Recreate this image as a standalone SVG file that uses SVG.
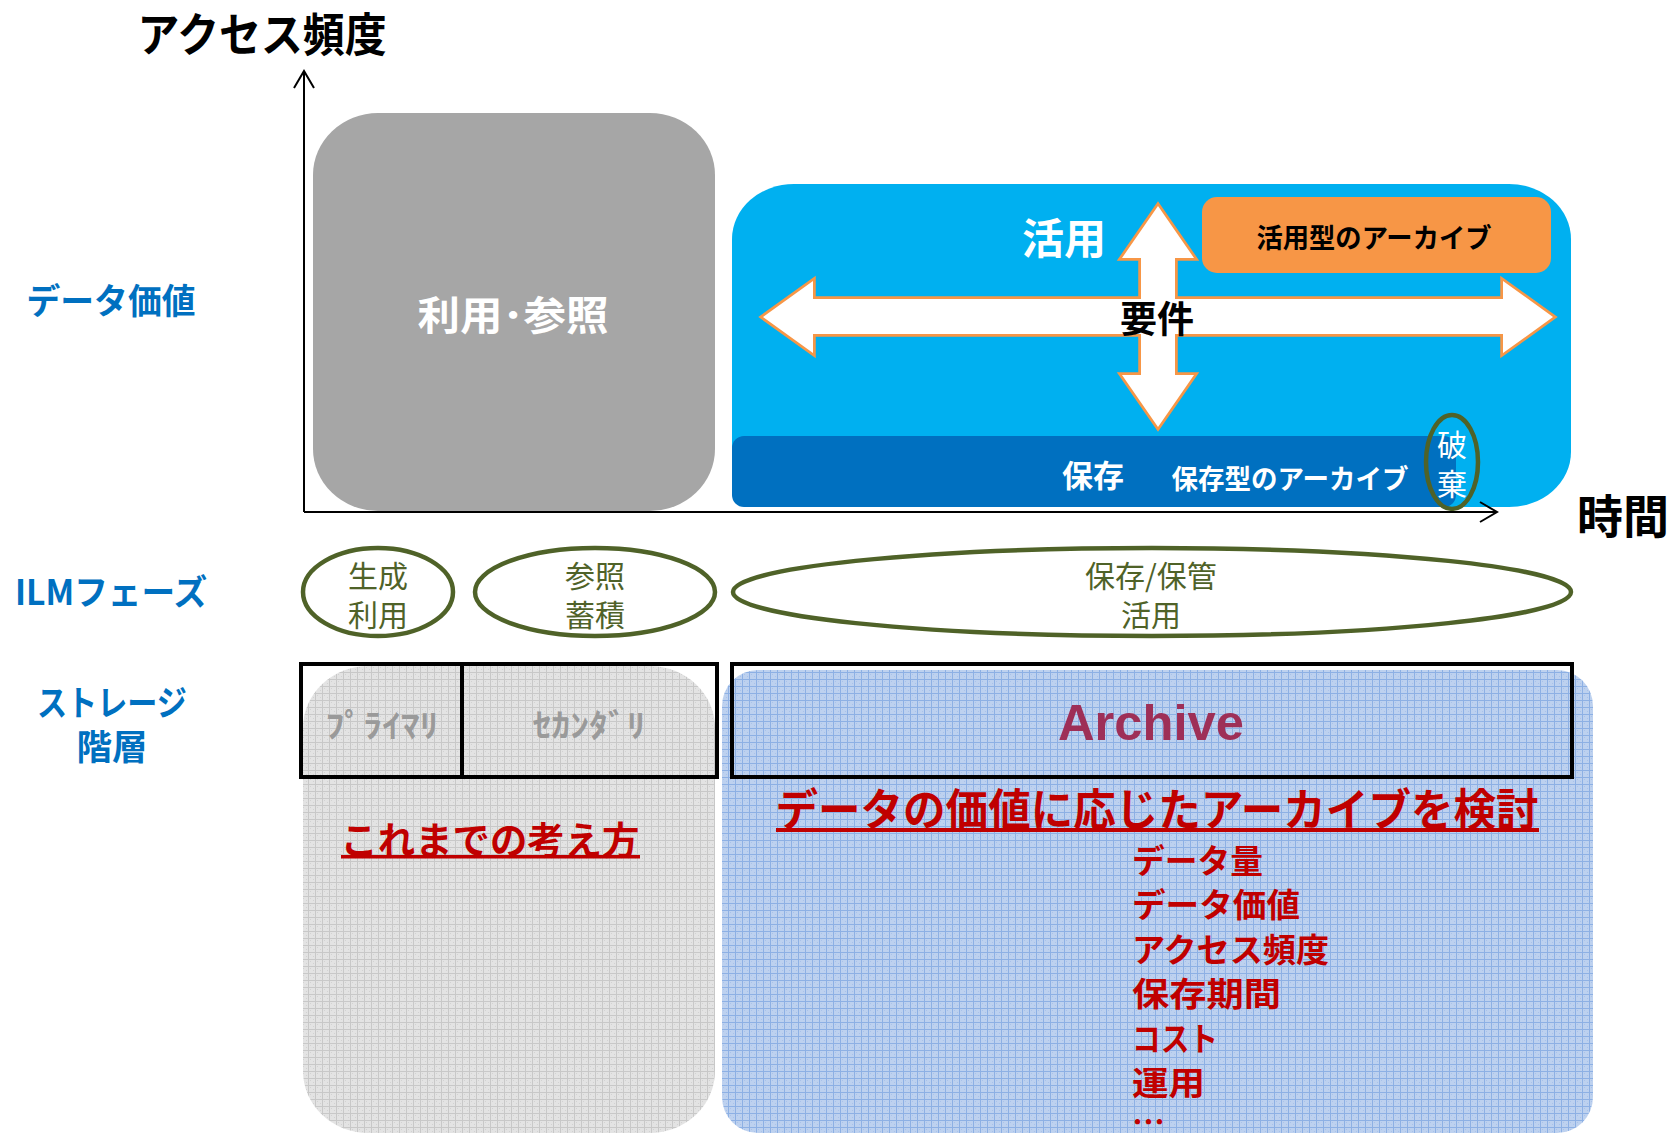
<svg xmlns="http://www.w3.org/2000/svg" width="1680" height="1135" viewBox="0 0 1680 1135">
<defs>
<style>
text{font-family:"Noto Sans CJK JP","Noto Sans",sans-serif;}
.b{font-weight:700;}
.c{text-anchor:middle;dominant-baseline:central;}
.lab{fill:#0070C0;font-weight:700;font-size:35px;}
.w{fill:#FFFFFF;}
.red{fill:#C00000;font-weight:700;}
.olive{fill:#4F6228;font-size:30px;}
.ell{fill:none;stroke:#4F6228;stroke-width:4.5;}
.arw{fill:#FFFFFF;stroke:#F79646;stroke-width:5.5;stroke-linejoin:miter;}
.arwf{fill:#FFFFFF;stroke:none;}
.axis{fill:none;stroke:#000;stroke-width:2;}
.tbl{fill:none;stroke:#000;stroke-width:4;}
.kana{fill:#9A9A9A;font-weight:700;font-size:32px;}
.li{font-size:33px;dominant-baseline:central;}
</style>
<pattern id="gridGrey" width="7" height="7" patternUnits="userSpaceOnUse">
<rect width="7" height="7" fill="#E3E3E3"/>
<rect x="2" y="2" width="1" height="1" fill="#D2D2D2"/>
<rect x="5" y="4" width="1" height="1" fill="#D2D2D2"/>
<path d="M0,0.5H7M0.5,0V7" stroke="#C8C8C8" stroke-width="1"/>
</pattern>
<pattern id="gridBlue" width="7" height="7" patternUnits="userSpaceOnUse">
<rect width="7" height="7" fill="#BDD1EF"/>
<rect x="2" y="2" width="1" height="1" fill="#A9C2EA"/>
<rect x="5" y="4" width="1" height="1" fill="#A9C2EA"/>
<path d="M0,0.5H7M0.5,0V7" stroke="#8DB0E4" stroke-width="1"/>
</pattern>
</defs>

<rect width="1680" height="1135" fill="#FFFFFF"/>

<g id="title-access">
<text class="b c" x="262" y="31" font-size="46" textLength="249" lengthAdjust="spacingAndGlyphs" fill="#000">アクセス頻度</text>
</g>
<g id="title-time">
<text class="b c" x="1623" y="513" font-size="46" fill="#000">時間</text>
</g>
<g id="label-value">
<text class="lab c" x="111" y="298" textLength="169" lengthAdjust="spacingAndGlyphs">データ価値</text>
</g>
<g id="label-ilm">
<text class="lab c" x="111" y="589" textLength="192" lengthAdjust="spacingAndGlyphs">ILMフェーズ</text>
</g>
<g id="label-storage">
<text class="lab c" x="112" y="700" textLength="150" lengthAdjust="spacingAndGlyphs">ストレージ</text>
<text class="lab c" x="112" y="744" textLength="71" lengthAdjust="spacingAndGlyphs">階層</text>
</g>

<g id="node-usage">
<rect x="313" y="113" width="402" height="398" rx="65" ry="62" fill="#A6A6A6"/>
<text class="b c w" x="513" y="313" font-size="40" textLength="191" lengthAdjust="spacingAndGlyphs">利用･参照</text>
</g>

<g id="node-archive-phase">
<rect x="732" y="184" width="839" height="323" rx="62" ry="55" fill="#00B0F0"/>
<rect x="732" y="436" width="724" height="71" rx="12" ry="12" fill="#0070C0"/>
<text class="b c w" x="1064" y="235" font-size="42">活用</text>
<text class="b c w" x="1093" y="473" font-size="31">保存</text>
<text class="b c w" x="1290" y="477" font-size="27" textLength="237" lengthAdjust="spacingAndGlyphs">保存型のアーカイブ</text>
</g>

<g id="node-active-archive">
<rect x="1202" y="197" width="349" height="76" rx="15" ry="15" fill="#F79646"/>
<text class="b c" x="1374" y="236" font-size="27" fill="#000" textLength="235" lengthAdjust="spacingAndGlyphs">活用型のアーカイブ</text>
</g>

<g id="node-requirements">
<path class="arw" d="M763,317 L813,281 L813,299 L1503,299 L1503,281 L1553,317 L1503,353 L1503,334 L813,334 L813,353 Z"/>
<path class="arw" d="M1158,206 L1194,258 L1175,258 L1175,375 L1194,375 L1158,427 L1122,375 L1141,375 L1141,258 L1122,258 Z"/>
<path class="arwf" d="M763,317 L813,281 L813,299 L1503,299 L1503,281 L1553,317 L1503,353 L1503,334 L813,334 L813,353 Z"/>
<path class="arwf" d="M1158,206 L1194,258 L1175,258 L1175,375 L1194,375 L1158,427 L1122,375 L1141,375 L1141,258 L1122,258 Z"/>
<text class="b c" x="1157" y="317" font-size="37" fill="#000">要件</text>
</g>

<g id="node-disposal">
<ellipse class="ell" cx="1452" cy="462" rx="26" ry="47"/>
<text class="c w" x="1452" y="443" font-size="30">破</text>
<text class="c w" x="1452" y="482" font-size="30">棄</text>
</g>

<g id="connectors">
<path class="axis" d="M304,512 V71"/>
<path class="axis" d="M294,88 L304,71 L314,88"/>
<path class="axis" d="M304,512 H1497"/>
<path class="axis" d="M1480,502 L1497,512 L1480,522"/>
</g>

<g id="phase-create">
<ellipse class="ell" cx="378" cy="592" rx="75" ry="44"/>
<text class="c olive" x="378" y="574">生成</text>
<text class="c olive" x="378" y="613">利用</text>
</g>
<g id="phase-reference">
<ellipse class="ell" cx="595" cy="592" rx="120" ry="44"/>
<text class="c olive" x="595" y="574">参照</text>
<text class="c olive" x="595" y="613">蓄積</text>
</g>
<g id="phase-store">
<ellipse class="ell" cx="1152" cy="592" rx="419" ry="44"/>
<text class="c olive" x="1151" y="574">保存/保管</text>
<text class="c olive" x="1151" y="613">活用</text>
</g>

<g id="node-conventional">
<rect x="303" y="666" width="412" height="467" rx="65" ry="62" fill="url(#gridGrey)"/>
<rect class="tbl" x="301" y="664" width="416" height="113"/>
<path class="tbl" d="M462,664 V777"/>
<text class="kana c" x="382" y="723" textLength="113" lengthAdjust="spacingAndGlyphs">ﾌﾟﾗｲﾏﾘ</text>
<text class="kana c" x="589" y="723" textLength="113" lengthAdjust="spacingAndGlyphs">ｾｶﾝﾀﾞﾘ</text>
<text class="red c" x="490" y="837" font-size="38" textLength="299" lengthAdjust="spacingAndGlyphs">これまでの考え方</text>
<rect x="341" y="855" width="299" height="3.5" fill="#C00000"/>
</g>

<g id="node-archive">
<rect x="722" y="670" width="871" height="463" rx="36" ry="36" fill="url(#gridBlue)"/>
<rect class="tbl" x="732" y="664" width="840" height="113"/>
<text x="1151" y="740" text-anchor="middle" font-weight="700" font-size="50" fill="#9E2F57" textLength="186" lengthAdjust="spacingAndGlyphs" style="font-family:'Liberation Sans',Arial,sans-serif">Archive</text>
<text class="red c" x="1157" y="807" font-size="44" textLength="763" lengthAdjust="spacingAndGlyphs">データの価値に応じたアーカイブを検討</text>
<rect x="776" y="828" width="763" height="4" fill="#C00000"/>
<text class="red li" x="1132" y="859" textLength="131" lengthAdjust="spacingAndGlyphs">データ量</text>
<text class="red li" x="1132" y="903" textLength="168" lengthAdjust="spacingAndGlyphs">データ価値</text>
<text class="red li" x="1132" y="948" textLength="197" lengthAdjust="spacingAndGlyphs">アクセス頻度</text>
<text class="red li" x="1132" y="992" textLength="149" lengthAdjust="spacingAndGlyphs">保存期間</text>
<text class="red li" x="1132" y="1037" textLength="86" lengthAdjust="spacingAndGlyphs">コスト</text>
<text class="red li" x="1132" y="1081" textLength="73" lengthAdjust="spacingAndGlyphs">運用</text>
<text class="red" x="1132" y="1134" font-size="33">…</text>
</g>
</svg>
